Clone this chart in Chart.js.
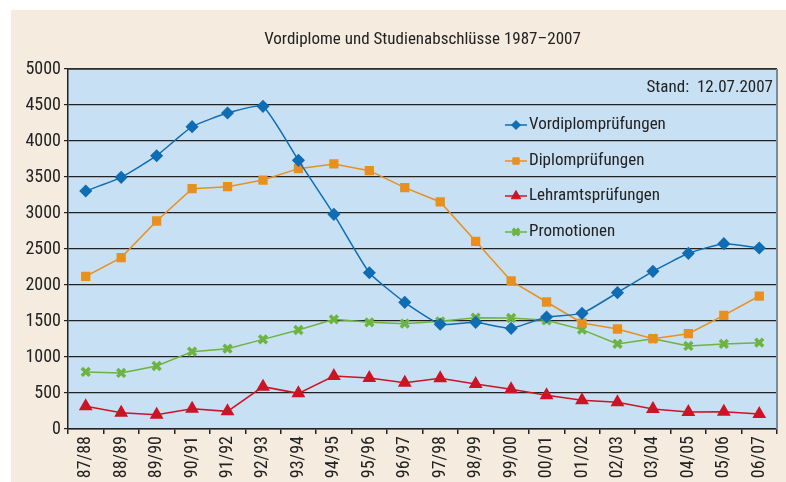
<!DOCTYPE html>
<html>
<head>
<meta charset="utf-8">
<script src="https://cdn.jsdelivr.net/npm/chart.js@4"></script>
<style>
  html, body { margin: 0; padding: 0; background: #fff; }
  #wrap { position: absolute; left: 11px; top: 10px; width: 775px; height: 472px; background: #f5ecdf; }
</style>
</head>
<body>
<div id="wrap"><canvas id="chart" width="775" height="472"></canvas></div>
<script>
const FONT = "'Liberation Sans Narrow', 'Roboto Condensed', 'DejaVu Sans Condensed', sans-serif";

const years = ['87/88', '88/89', '89/90', '90/91', '91/92', '92/93', '93/94', '94/95', '95/96', '96/97',
  '97/98', '98/99', '99/00', '00/01', '01/02', '02/03', '03/04', '04/05', '05/06', '06/07'];

const vordiplom = [3305, 3495, 3796, 4199, 4389, 4481, 3731, 2981, 2171, 1759,
  1454, 1481, 1398, 1555, 1606, 1894, 2190, 2440, 2574, 2514];
const diplom = [2120, 2380, 2889, 3338, 3366, 3458, 3616, 3681, 3588, 3352,
  3153, 2607, 2056, 1764, 1472, 1389, 1254, 1324, 1579, 1847];
const lehramt = [315, 227, 199, 282, 245, 588, 495, 736, 708, 644,
  704, 625, 551, 468, 398, 370, 278, 236, 241, 208];
const promotionen = [792, 778, 875, 1074, 1116, 1245, 1375, 1523, 1481, 1463,
  1495, 1546, 1542, 1509, 1380, 1181, 1254, 1153, 1181, 1199];

const yTicks = [0, 500, 1000, 1500, 2000, 2500, 3000, 3500, 4000, 4500, 5000];

const title = 'Vordiplome und Studienabschlüsse 1987–2007';
const stand = 'Stand:  12.07.2007';

// plot background, border, title, inner legend
const decor = {
  id: 'decor',
  beforeDraw(chart) {
    const { ctx, chartArea: a } = chart;
    ctx.save();
    ctx.fillStyle = '#c8e0f3';
    ctx.fillRect(a.left, a.top, a.right - a.left, a.bottom - a.top);
    ctx.restore();
  },
  afterDraw(chart) {
    const { ctx, chartArea: a } = chart;
    ctx.save();
    ctx.strokeStyle = '#333';
    ctx.lineWidth = 1.5;
    ctx.beginPath();
    ctx.moveTo(a.left, a.top);
    ctx.lineTo(a.right, a.top);
    ctx.stroke();
    ctx.strokeStyle = '#7a8a99';
    ctx.lineWidth = 2;
    ctx.beginPath();
    ctx.moveTo(a.right, a.top);
    ctx.lineTo(a.right, a.bottom);
    ctx.stroke();

    ctx.fillStyle = '#222';
    ctx.font = '17px ' + FONT;
    ctx.textAlign = 'center';
    ctx.textBaseline = 'middle';
    ctx.fillText(title, (a.left + a.right) / 2, 30);

    ctx.textAlign = 'right';
    ctx.fillText(stand, a.right - 4, 78);

    // legend
    const lx = 494, ys = [115, 151, 186, 222];
    ctx.textAlign = 'left';
    chart.data.datasets.forEach((ds, i) => {
      const y = ys[i];
      ctx.strokeStyle = ds.borderColor;
      ctx.lineWidth = 1.5;
      ctx.beginPath();
      ctx.moveTo(lx, y);
      ctx.lineTo(lx + 22, y);
      ctx.stroke();
      ctx.fillStyle = ds.pointBackgroundColor;
      ctx.strokeStyle = ds.borderColor;
      ctx.lineWidth = ds.pointBorderWidth || 1;
      Chart.helpers.drawPoint(ctx, {
        pointStyle: ds.pointStyle, radius: ds.pointRadius - 1, borderWidth: ds.pointBorderWidth || 1
      }, lx + 11, y);
      ctx.fillStyle = '#222';
      ctx.fillText(ds.label, lx + 24, y);
    });
    ctx.restore();
  }
};

new Chart(document.getElementById('chart'), {
  type: 'line',
  data: {
    labels: years,
    datasets: [
      { label: 'Vordiplomprüfungen', data: vordiplom, borderColor: '#0e6db3', backgroundColor: '#0e6db3',
        pointBackgroundColor: '#0e6db3', pointStyle: 'rectRot', pointRadius: 5.5, borderWidth: 1.5, tension: 0.15 },
      { label: 'Diplomprüfungen', data: diplom, borderColor: '#e8901f', backgroundColor: '#e8901f',
        pointBackgroundColor: '#e8901f', pointStyle: 'rect', pointRadius: 5.5, borderWidth: 1.5 },
      { label: 'Lehramtsprüfungen', data: lehramt, borderColor: '#cc1424', backgroundColor: '#cc1424',
        pointBackgroundColor: '#cc1424', pointStyle: 'triangle', pointRadius: 6.5, borderWidth: 1.5 },
      { label: 'Promotionen', data: promotionen, borderColor: '#6cb33f', backgroundColor: '#6cb33f',
        pointBackgroundColor: '#6cb33f', pointStyle: 'crossRot', pointRadius: 5.5, pointBorderWidth: 3.5, borderWidth: 1.5 }
    ]
  },
  options: {
    responsive: false,
    animation: false,
    layout: { padding: { left: 0, right: 5, top: 59, bottom: 0 } },
    plugins: {
      legend: { display: false },
      tooltip: { enabled: false }
    },
    scales: {
      x: {
        offset: true,
        grid: { offset: true, drawOnChartArea: false, drawTicks: true, tickLength: 5, color: '#222', lineWidth: 1.5 },
        border: { color: '#222', width: 1.5 },
        ticks: { color: '#222', font: { family: FONT, size: 18 }, minRotation: 90, maxRotation: 90, padding: 2 },
        afterFit(scale) { scale.height = 53; }
      },
      y: {
        min: 0,
        max: 5000,
        afterBuildTicks(scale) { scale.ticks = yTicks.map(v => ({ value: v })); },
        grid: { color: '#222', lineWidth: 1.2, tickLength: 4 },
        border: { color: '#222', width: 1.5 },
        ticks: { color: '#222', font: { family: FONT, size: 18 }, padding: 3, callback: v => String(v) },
        afterFit(scale) { scale.width = 57; }
      }
    }
  },
  plugins: [decor]
});
</script>
</body>
</html>
